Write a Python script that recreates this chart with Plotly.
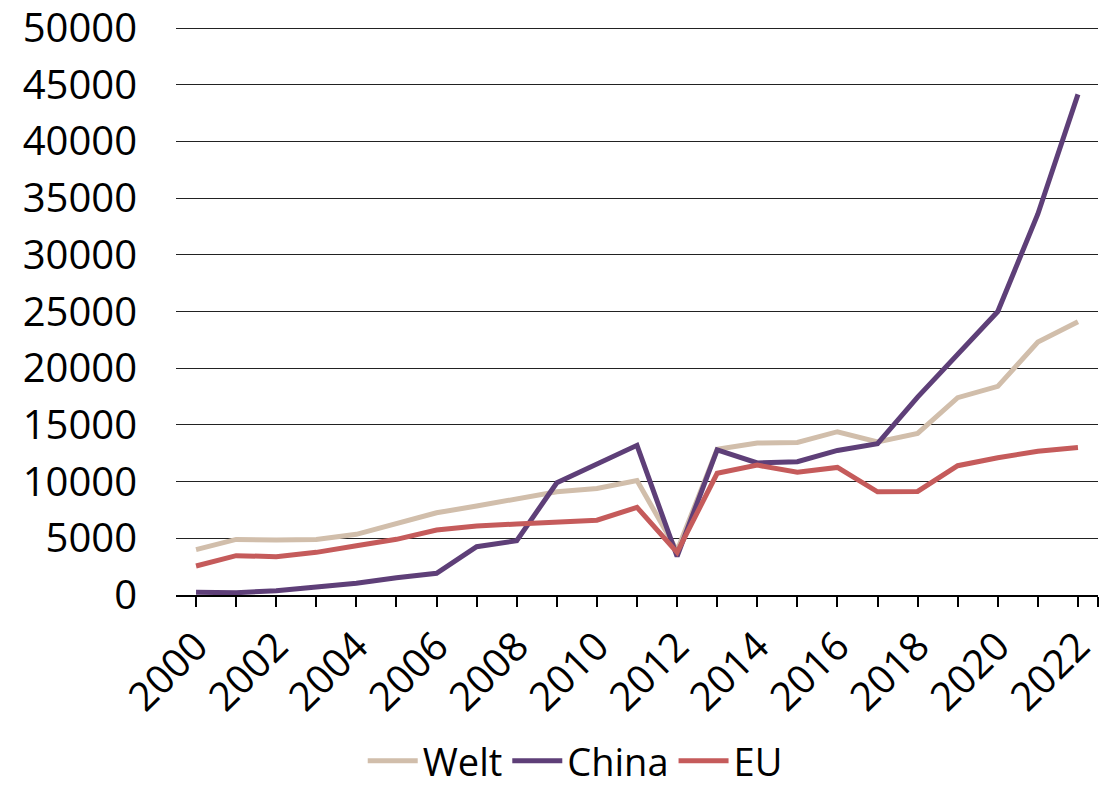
import plotly.graph_objects as go

# Yearly values per region
years = list(range(2000, 2023))
welt = [4000, 4900, 4850, 4900, 5350, 6300, 7250, 7850, 8500, 9100,
        9400, 10100, 3900, 12850, 13400, 13450, 14400, 13500, 14250, 17400,
        18400, 22300, 24100]
china = [240, 200, 380, 730, 1030, 1530, 1910, 4260, 4790, 9900,
         11600, 13200, 3400, 12800, 11650, 11750, 12750, 13350, 17450, 21300,
         25000, 33600, 44150]
eu = [2560, 3470, 3380, 3760, 4350, 4910, 5730, 6080, 6260, 6470,
      6600, 7730, 3760, 10730, 11450, 10820, 11250, 9100, 9130, 11400,
      12100, 12680, 13000]
y_ticks = list(range(0, 50001, 5000))

series = [
    ("Welt", welt, "#D1BEAB"),
    ("China", china, "#5E3F78"),
    ("EU", eu, "#C55B5B"),
]

font_family = "Open Sans"
font_size = 40

fig = go.Figure()
for name, values, color in series:
    fig.add_trace(go.Scatter(
        x=years, y=values, name=name, mode="lines",
        line=dict(color=color, width=5),
    ))

tick_vals = years + [2022.5]
tick_text = [str(y) if y % 2 == 0 else "" for y in years] + [""]

fig.update_layout(
    width=1116, height=787,
    margin=dict(l=176, r=18, t=22, b=192, autoexpand=False),
    paper_bgcolor="white", plot_bgcolor="white",
    font=dict(family=font_family, size=font_size, color="black"),
    showlegend=True,
    legend=dict(
        orientation="h", x=0.433, xanchor="center", y=-0.29, yanchor="middle",
        font=dict(family=font_family, size=38, color="black"),
        itemwidth=50, tracegroupgap=0,
    ),
    xaxis=dict(
        range=[1999.5, 2022.5], automargin=False,
        tickmode="array", tickvals=tick_vals, ticktext=tick_text,
        tickangle=-45,
        ticks="outside", ticklen=10, tickwidth=1.5, tickcolor="black",
        showline=True, linecolor="black", linewidth=1.5,
        showgrid=False, zeroline=False,
        tickfont=dict(family=font_family, size=font_size, color="black"),
    ),
    yaxis=dict(
        range=[0, 50530], automargin=False,
        tickmode="array", tickvals=y_ticks,
        ticktext=[str(v) for v in y_ticks],
        ticklabeloverflow="allow",
        showgrid=True, gridcolor="#222222", gridwidth=1,
        showline=False, zeroline=False, ticks="",
        ticklabelstandoff=38,
        tickfont=dict(family=font_family, size=font_size, color="black"),
    ),
)

fig.write_html("out.html")
